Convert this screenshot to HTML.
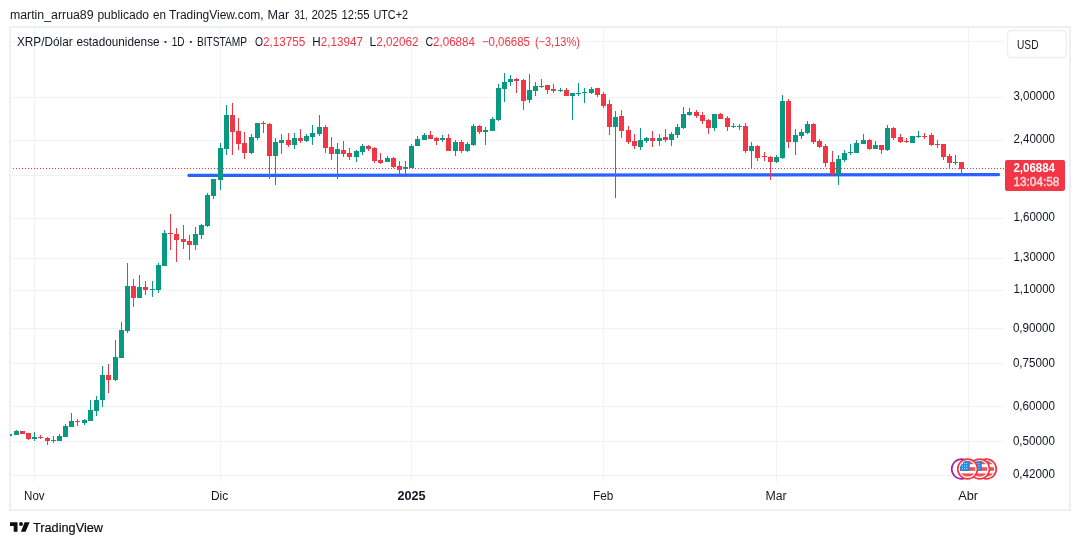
<!DOCTYPE html>
<html><head><meta charset="utf-8"><title>XRP/Dólar estadounidense</title>
<style>
html,body{margin:0;padding:0;background:#fff;}
body{width:1080px;height:545px;overflow:hidden;font-family:"Liberation Sans",sans-serif;}
svg{display:block;}
text{font-family:"Liberation Sans",sans-serif;}
</style></head><body>
<svg width="1080" height="545" viewBox="0 0 1080 545" style="will-change:transform">
<rect x="0" y="0" width="1080" height="545" fill="#ffffff"/>
<text x="9.9" y="19.3" font-size="12" fill="#131722" textLength="83.7" lengthAdjust="spacingAndGlyphs">martin_arrua89</text>
<text x="97.4" y="19.3" font-size="12" fill="#131722" textLength="51.7" lengthAdjust="spacingAndGlyphs">publicado</text>
<text x="152.9" y="19.3" font-size="12" fill="#131722" textLength="13.0" lengthAdjust="spacingAndGlyphs">en</text>
<text x="169.1" y="19.3" font-size="12" fill="#131722" textLength="94.5" lengthAdjust="spacingAndGlyphs">TradingView.com,</text>
<text x="267.4" y="19.3" font-size="12" fill="#131722" textLength="21.7" lengthAdjust="spacingAndGlyphs">Mar</text>
<text x="294.4" y="19.3" font-size="12" fill="#131722" textLength="13.2" lengthAdjust="spacingAndGlyphs">31,</text>
<text x="311.4" y="19.3" font-size="12" fill="#131722" textLength="25.7" lengthAdjust="spacingAndGlyphs">2025</text>
<text x="341.4" y="19.3" font-size="12" fill="#131722" textLength="28.2" lengthAdjust="spacingAndGlyphs">12:55</text>
<text x="373.4" y="19.3" font-size="12" fill="#131722" textLength="34.7" lengthAdjust="spacingAndGlyphs">UTC+2</text>
<g shape-rendering="crispEdges" fill="#f1f2f4">
<rect x="11" y="41" width="993" height="1"/>
<rect x="11" y="97" width="993" height="1"/>
<rect x="11" y="140" width="993" height="1"/>
<rect x="11" y="175" width="993" height="1"/>
<rect x="11" y="218" width="993" height="1"/>
<rect x="11" y="258" width="993" height="1"/>
<rect x="11" y="290" width="993" height="1"/>
<rect x="11" y="328" width="993" height="1"/>
<rect x="11" y="363" width="993" height="1"/>
<rect x="11" y="406" width="993" height="1"/>
<rect x="11" y="441" width="993" height="1"/>
<rect x="11" y="475" width="993" height="1"/>
<rect x="34" y="28" width="1" height="454"/>
<rect x="220" y="28" width="1" height="454"/>
<rect x="411" y="28" width="1" height="454"/>
<rect x="603" y="28" width="1" height="454"/>
<rect x="776" y="28" width="1" height="454"/>
<rect x="968" y="28" width="1" height="454"/>
</g>
<rect x="10" y="27" width="1060" height="483" fill="none" stroke="#eff0f2" stroke-width="2"/>
<line x1="189" y1="175.4" x2="998.5" y2="174.6" stroke="#2962ff" stroke-width="3.4" stroke-linecap="round"/>
<defs><clipPath id="cp"><rect x="10" y="28" width="994" height="454"/></clipPath></defs>
<g shape-rendering="crispEdges" clip-path="url(#cp)">
<rect x="9" y="434" width="1" height="2" fill="#089981"/><rect x="7" y="434" width="5" height="2" fill="#089981"/>
<rect x="16" y="430" width="1" height="5" fill="#089981"/><rect x="14" y="431" width="5" height="4" fill="#089981"/>
<rect x="22" y="431" width="1" height="3" fill="#f23645"/><rect x="20" y="431" width="5" height="3" fill="#f23645"/>
<rect x="28" y="433" width="1" height="7" fill="#f23645"/><rect x="26" y="433" width="5" height="6" fill="#f23645"/>
<rect x="34" y="432" width="1" height="9" fill="#089981"/><rect x="32" y="437" width="5" height="2" fill="#089981"/>
<rect x="40" y="435" width="1" height="4" fill="#f23645"/><rect x="38" y="437" width="5" height="1" fill="#f23645"/>
<rect x="47" y="437" width="1" height="8" fill="#f23645"/><rect x="45" y="438" width="5" height="3" fill="#f23645"/>
<rect x="53" y="436" width="1" height="7" fill="#089981"/><rect x="51" y="440" width="5" height="1" fill="#089981"/>
<rect x="59" y="434" width="1" height="7" fill="#089981"/><rect x="57" y="436" width="5" height="5" fill="#089981"/>
<rect x="65" y="424" width="1" height="13" fill="#089981"/><rect x="63" y="426" width="5" height="11" fill="#089981"/>
<rect x="71" y="413" width="1" height="14" fill="#089981"/><rect x="69" y="421" width="5" height="6" fill="#089981"/>
<rect x="77" y="419" width="1" height="7" fill="#f23645"/><rect x="75" y="421" width="5" height="1" fill="#f23645"/>
<rect x="84" y="419" width="1" height="6" fill="#089981"/><rect x="82" y="420" width="5" height="3" fill="#089981"/>
<rect x="90" y="400" width="1" height="21" fill="#089981"/><rect x="88" y="410" width="5" height="11" fill="#089981"/>
<rect x="96" y="396" width="1" height="20" fill="#089981"/><rect x="94" y="400" width="5" height="11" fill="#089981"/>
<rect x="102" y="366" width="1" height="41" fill="#089981"/><rect x="100" y="375" width="5" height="25" fill="#089981"/>
<rect x="108" y="364" width="1" height="29" fill="#f23645"/><rect x="106" y="375" width="5" height="5" fill="#f23645"/>
<rect x="115" y="340" width="1" height="41" fill="#089981"/><rect x="113" y="357" width="5" height="23" fill="#089981"/>
<rect x="121" y="322" width="1" height="36" fill="#089981"/><rect x="119" y="330" width="5" height="28" fill="#089981"/>
<rect x="127" y="263" width="1" height="70" fill="#089981"/><rect x="125" y="286" width="5" height="45" fill="#089981"/>
<rect x="133" y="279" width="1" height="28" fill="#f23645"/><rect x="131" y="286" width="5" height="12" fill="#f23645"/>
<rect x="139" y="275" width="1" height="23" fill="#089981"/><rect x="137" y="287" width="5" height="11" fill="#089981"/>
<rect x="145" y="281" width="1" height="14" fill="#f23645"/><rect x="143" y="287" width="5" height="3" fill="#f23645"/>
<rect x="152" y="281" width="1" height="16" fill="#089981"/><rect x="150" y="289" width="5" height="1" fill="#089981"/>
<rect x="158" y="263" width="1" height="30" fill="#089981"/><rect x="156" y="265" width="5" height="25" fill="#089981"/>
<rect x="164" y="230" width="1" height="36" fill="#089981"/><rect x="162" y="233" width="5" height="33" fill="#089981"/>
<rect x="170" y="214" width="1" height="36" fill="#f23645"/><rect x="168" y="233" width="5" height="1" fill="#f23645"/>
<rect x="176" y="228" width="1" height="34" fill="#f23645"/><rect x="174" y="234" width="5" height="6" fill="#f23645"/>
<rect x="183" y="225" width="1" height="24" fill="#f23645"/><rect x="181" y="239" width="5" height="3" fill="#f23645"/>
<rect x="189" y="235" width="1" height="25" fill="#f23645"/><rect x="187" y="241" width="5" height="4" fill="#f23645"/>
<rect x="195" y="227" width="1" height="23" fill="#089981"/><rect x="193" y="234" width="5" height="11" fill="#089981"/>
<rect x="201" y="224" width="1" height="15" fill="#089981"/><rect x="199" y="225" width="5" height="10" fill="#089981"/>
<rect x="207" y="193" width="1" height="34" fill="#089981"/><rect x="205" y="195" width="5" height="31" fill="#089981"/>
<rect x="213" y="179" width="1" height="20" fill="#089981"/><rect x="211" y="179" width="5" height="17" fill="#089981"/>
<rect x="220" y="143" width="1" height="47" fill="#089981"/><rect x="218" y="148" width="5" height="32" fill="#089981"/>
<rect x="226" y="105" width="1" height="50" fill="#089981"/><rect x="224" y="115" width="5" height="34" fill="#089981"/>
<rect x="232" y="103" width="1" height="52" fill="#f23645"/><rect x="230" y="115" width="5" height="17" fill="#f23645"/>
<rect x="238" y="118" width="1" height="32" fill="#f23645"/><rect x="236" y="131" width="5" height="13" fill="#f23645"/>
<rect x="244" y="132" width="1" height="27" fill="#f23645"/><rect x="242" y="143" width="5" height="10" fill="#f23645"/>
<rect x="251" y="134" width="1" height="20" fill="#089981"/><rect x="249" y="137" width="5" height="16" fill="#089981"/>
<rect x="257" y="123" width="1" height="17" fill="#089981"/><rect x="255" y="123" width="5" height="15" fill="#089981"/>
<rect x="263" y="121" width="1" height="12" fill="#f23645"/><rect x="261" y="123" width="5" height="1" fill="#f23645"/>
<rect x="269" y="123" width="1" height="56" fill="#f23645"/><rect x="267" y="124" width="5" height="32" fill="#f23645"/>
<rect x="275" y="138" width="1" height="47" fill="#089981"/><rect x="273" y="142" width="5" height="14" fill="#089981"/>
<rect x="281" y="134" width="1" height="20" fill="#089981"/><rect x="279" y="140" width="5" height="3" fill="#089981"/>
<rect x="288" y="133" width="1" height="14" fill="#f23645"/><rect x="286" y="140" width="5" height="5" fill="#f23645"/>
<rect x="294" y="133" width="1" height="16" fill="#089981"/><rect x="292" y="138" width="5" height="7" fill="#089981"/>
<rect x="300" y="129" width="1" height="14" fill="#f23645"/><rect x="298" y="138" width="5" height="3" fill="#f23645"/>
<rect x="306" y="134" width="1" height="8" fill="#089981"/><rect x="304" y="136" width="5" height="5" fill="#089981"/>
<rect x="312" y="125" width="1" height="20" fill="#089981"/><rect x="310" y="133" width="5" height="4" fill="#089981"/>
<rect x="319" y="115" width="1" height="21" fill="#089981"/><rect x="317" y="127" width="5" height="7" fill="#089981"/>
<rect x="325" y="125" width="1" height="28" fill="#f23645"/><rect x="323" y="127" width="5" height="21" fill="#f23645"/>
<rect x="331" y="137" width="1" height="23" fill="#f23645"/><rect x="329" y="147" width="5" height="7" fill="#f23645"/>
<rect x="337" y="143" width="1" height="36" fill="#089981"/><rect x="335" y="149" width="5" height="5" fill="#089981"/>
<rect x="343" y="141" width="1" height="16" fill="#f23645"/><rect x="341" y="150" width="5" height="4" fill="#f23645"/>
<rect x="349" y="148" width="1" height="12" fill="#f23645"/><rect x="347" y="153" width="5" height="4" fill="#f23645"/>
<rect x="356" y="150" width="1" height="12" fill="#089981"/><rect x="354" y="151" width="5" height="6" fill="#089981"/>
<rect x="362" y="144" width="1" height="11" fill="#089981"/><rect x="360" y="146" width="5" height="6" fill="#089981"/>
<rect x="368" y="145" width="1" height="6" fill="#f23645"/><rect x="366" y="146" width="5" height="3" fill="#f23645"/>
<rect x="374" y="147" width="1" height="16" fill="#f23645"/><rect x="372" y="148" width="5" height="13" fill="#f23645"/>
<rect x="380" y="153" width="1" height="11" fill="#f23645"/><rect x="378" y="160" width="5" height="3" fill="#f23645"/>
<rect x="387" y="156" width="1" height="6" fill="#089981"/><rect x="385" y="158" width="5" height="4" fill="#089981"/>
<rect x="393" y="157" width="1" height="11" fill="#f23645"/><rect x="391" y="158" width="5" height="9" fill="#f23645"/>
<rect x="399" y="161" width="1" height="14" fill="#f23645"/><rect x="397" y="166" width="5" height="4" fill="#f23645"/>
<rect x="405" y="161" width="1" height="13" fill="#089981"/><rect x="403" y="167" width="5" height="2" fill="#089981"/>
<rect x="411" y="144" width="1" height="24" fill="#089981"/><rect x="409" y="146" width="5" height="22" fill="#089981"/>
<rect x="417" y="136" width="1" height="10" fill="#089981"/><rect x="415" y="139" width="5" height="7" fill="#089981"/>
<rect x="424" y="133" width="1" height="7" fill="#089981"/><rect x="422" y="135" width="5" height="5" fill="#089981"/>
<rect x="430" y="131" width="1" height="8" fill="#f23645"/><rect x="428" y="135" width="5" height="4" fill="#f23645"/>
<rect x="436" y="137" width="1" height="8" fill="#f23645"/><rect x="434" y="138" width="5" height="3" fill="#f23645"/>
<rect x="442" y="135" width="1" height="7" fill="#089981"/><rect x="440" y="138" width="5" height="2" fill="#089981"/>
<rect x="448" y="134" width="1" height="17" fill="#f23645"/><rect x="446" y="138" width="5" height="13" fill="#f23645"/>
<rect x="455" y="140" width="1" height="16" fill="#089981"/><rect x="453" y="142" width="5" height="9" fill="#089981"/>
<rect x="461" y="140" width="1" height="13" fill="#f23645"/><rect x="459" y="142" width="5" height="9" fill="#f23645"/>
<rect x="467" y="142" width="1" height="10" fill="#089981"/><rect x="465" y="144" width="5" height="7" fill="#089981"/>
<rect x="473" y="124" width="1" height="22" fill="#089981"/><rect x="471" y="126" width="5" height="19" fill="#089981"/>
<rect x="479" y="125" width="1" height="9" fill="#f23645"/><rect x="477" y="126" width="5" height="6" fill="#f23645"/>
<rect x="485" y="127" width="1" height="18" fill="#089981"/><rect x="483" y="130" width="5" height="2" fill="#089981"/>
<rect x="492" y="117" width="1" height="14" fill="#089981"/><rect x="490" y="119" width="5" height="12" fill="#089981"/>
<rect x="498" y="84" width="1" height="37" fill="#089981"/><rect x="496" y="88" width="5" height="32" fill="#089981"/>
<rect x="504" y="73" width="1" height="29" fill="#089981"/><rect x="502" y="82" width="5" height="7" fill="#089981"/>
<rect x="510" y="75" width="1" height="11" fill="#089981"/><rect x="508" y="79" width="5" height="3" fill="#089981"/>
<rect x="516" y="78" width="1" height="15" fill="#f23645"/><rect x="514" y="79" width="5" height="2" fill="#f23645"/>
<rect x="523" y="79" width="1" height="31" fill="#f23645"/><rect x="521" y="80" width="5" height="21" fill="#f23645"/>
<rect x="529" y="74" width="1" height="29" fill="#089981"/><rect x="527" y="90" width="5" height="10" fill="#089981"/>
<rect x="535" y="82" width="1" height="14" fill="#089981"/><rect x="533" y="86" width="5" height="5" fill="#089981"/>
<rect x="541" y="79" width="1" height="9" fill="#089981"/><rect x="539" y="86" width="5" height="1" fill="#089981"/>
<rect x="547" y="85" width="1" height="9" fill="#f23645"/><rect x="545" y="85" width="5" height="5" fill="#f23645"/>
<rect x="553" y="84" width="1" height="9" fill="#f23645"/><rect x="551" y="89" width="5" height="2" fill="#f23645"/>
<rect x="560" y="88" width="1" height="4" fill="#089981"/><rect x="558" y="90" width="5" height="1" fill="#089981"/>
<rect x="566" y="88" width="1" height="8" fill="#f23645"/><rect x="564" y="90" width="5" height="6" fill="#f23645"/>
<rect x="572" y="93" width="1" height="27" fill="#089981"/><rect x="570" y="93" width="5" height="3" fill="#089981"/>
<rect x="578" y="83" width="1" height="13" fill="#089981"/><rect x="576" y="93" width="5" height="1" fill="#089981"/>
<rect x="584" y="88" width="1" height="15" fill="#089981"/><rect x="582" y="92" width="5" height="1" fill="#089981"/>
<rect x="591" y="87" width="1" height="7" fill="#089981"/><rect x="589" y="89" width="5" height="4" fill="#089981"/>
<rect x="597" y="88" width="1" height="9" fill="#f23645"/><rect x="595" y="88" width="5" height="7" fill="#f23645"/>
<rect x="603" y="92" width="1" height="16" fill="#f23645"/><rect x="601" y="94" width="5" height="12" fill="#f23645"/>
<rect x="609" y="100" width="1" height="35" fill="#f23645"/><rect x="607" y="104" width="5" height="23" fill="#f23645"/>
<rect x="615" y="111" width="1" height="87" fill="#089981"/><rect x="613" y="117" width="5" height="10" fill="#089981"/>
<rect x="621" y="110" width="1" height="28" fill="#f23645"/><rect x="619" y="116" width="5" height="15" fill="#f23645"/>
<rect x="628" y="126" width="1" height="18" fill="#f23645"/><rect x="626" y="130" width="5" height="12" fill="#f23645"/>
<rect x="634" y="134" width="1" height="15" fill="#f23645"/><rect x="632" y="141" width="5" height="5" fill="#f23645"/>
<rect x="640" y="128" width="1" height="22" fill="#089981"/><rect x="638" y="140" width="5" height="7" fill="#089981"/>
<rect x="646" y="137" width="1" height="6" fill="#089981"/><rect x="644" y="138" width="5" height="3" fill="#089981"/>
<rect x="652" y="131" width="1" height="16" fill="#f23645"/><rect x="650" y="138" width="5" height="3" fill="#f23645"/>
<rect x="659" y="134" width="1" height="12" fill="#089981"/><rect x="657" y="138" width="5" height="3" fill="#089981"/>
<rect x="665" y="129" width="1" height="13" fill="#f23645"/><rect x="663" y="137" width="5" height="3" fill="#f23645"/>
<rect x="671" y="132" width="1" height="14" fill="#089981"/><rect x="669" y="134" width="5" height="6" fill="#089981"/>
<rect x="677" y="124" width="1" height="14" fill="#089981"/><rect x="675" y="127" width="5" height="8" fill="#089981"/>
<rect x="683" y="107" width="1" height="22" fill="#089981"/><rect x="681" y="114" width="5" height="14" fill="#089981"/>
<rect x="689" y="108" width="1" height="8" fill="#089981"/><rect x="687" y="112" width="5" height="3" fill="#089981"/>
<rect x="696" y="110" width="1" height="8" fill="#f23645"/><rect x="694" y="112" width="5" height="4" fill="#f23645"/>
<rect x="702" y="112" width="1" height="12" fill="#f23645"/><rect x="700" y="115" width="5" height="6" fill="#f23645"/>
<rect x="708" y="119" width="1" height="15" fill="#f23645"/><rect x="706" y="120" width="5" height="8" fill="#f23645"/>
<rect x="714" y="114" width="1" height="17" fill="#089981"/><rect x="712" y="114" width="5" height="14" fill="#089981"/>
<rect x="720" y="113" width="1" height="6" fill="#f23645"/><rect x="718" y="114" width="5" height="5" fill="#f23645"/>
<rect x="727" y="116" width="1" height="15" fill="#f23645"/><rect x="725" y="118" width="5" height="9" fill="#f23645"/>
<rect x="733" y="123" width="1" height="5" fill="#089981"/><rect x="731" y="126" width="5" height="1" fill="#089981"/>
<rect x="739" y="124" width="1" height="6" fill="#089981"/><rect x="737" y="126" width="5" height="1" fill="#089981"/>
<rect x="745" y="123" width="1" height="30" fill="#f23645"/><rect x="743" y="126" width="5" height="25" fill="#f23645"/>
<rect x="751" y="142" width="1" height="26" fill="#089981"/><rect x="749" y="146" width="5" height="5" fill="#089981"/>
<rect x="757" y="145" width="1" height="16" fill="#f23645"/><rect x="755" y="146" width="5" height="12" fill="#f23645"/>
<rect x="764" y="152" width="1" height="9" fill="#f23645"/><rect x="762" y="156" width="5" height="1" fill="#f23645"/>
<rect x="770" y="156" width="1" height="24" fill="#f23645"/><rect x="768" y="157" width="5" height="5" fill="#f23645"/>
<rect x="776" y="155" width="1" height="8" fill="#089981"/><rect x="774" y="157" width="5" height="5" fill="#089981"/>
<rect x="782" y="95" width="1" height="64" fill="#089981"/><rect x="780" y="101" width="5" height="57" fill="#089981"/>
<rect x="788" y="99" width="1" height="49" fill="#f23645"/><rect x="786" y="101" width="5" height="41" fill="#f23645"/>
<rect x="795" y="129" width="1" height="26" fill="#089981"/><rect x="793" y="135" width="5" height="7" fill="#089981"/>
<rect x="801" y="129" width="1" height="10" fill="#089981"/><rect x="799" y="132" width="5" height="4" fill="#089981"/>
<rect x="807" y="121" width="1" height="13" fill="#089981"/><rect x="805" y="124" width="5" height="9" fill="#089981"/>
<rect x="813" y="123" width="1" height="21" fill="#f23645"/><rect x="811" y="124" width="5" height="18" fill="#f23645"/>
<rect x="819" y="139" width="1" height="9" fill="#f23645"/><rect x="817" y="141" width="5" height="6" fill="#f23645"/>
<rect x="825" y="144" width="1" height="23" fill="#f23645"/><rect x="823" y="146" width="5" height="17" fill="#f23645"/>
<rect x="832" y="151" width="1" height="24" fill="#f23645"/><rect x="830" y="162" width="5" height="12" fill="#f23645"/>
<rect x="838" y="155" width="1" height="30" fill="#089981"/><rect x="836" y="159" width="5" height="15" fill="#089981"/>
<rect x="844" y="150" width="1" height="12" fill="#089981"/><rect x="842" y="153" width="5" height="7" fill="#089981"/>
<rect x="850" y="144" width="1" height="11" fill="#089981"/><rect x="848" y="152" width="5" height="1" fill="#089981"/>
<rect x="856" y="140" width="1" height="13" fill="#089981"/><rect x="854" y="143" width="5" height="10" fill="#089981"/>
<rect x="863" y="134" width="1" height="10" fill="#089981"/><rect x="861" y="140" width="5" height="4" fill="#089981"/>
<rect x="869" y="139" width="1" height="11" fill="#f23645"/><rect x="867" y="140" width="5" height="9" fill="#f23645"/>
<rect x="875" y="141" width="1" height="8" fill="#089981"/><rect x="873" y="145" width="5" height="4" fill="#089981"/>
<rect x="881" y="145" width="1" height="9" fill="#f23645"/><rect x="879" y="145" width="5" height="5" fill="#f23645"/>
<rect x="887" y="125" width="1" height="26" fill="#089981"/><rect x="885" y="128" width="5" height="22" fill="#089981"/>
<rect x="893" y="127" width="1" height="13" fill="#f23645"/><rect x="891" y="128" width="5" height="10" fill="#f23645"/>
<rect x="900" y="134" width="1" height="9" fill="#f23645"/><rect x="898" y="137" width="5" height="5" fill="#f23645"/>
<rect x="906" y="138" width="1" height="5" fill="#f23645"/><rect x="904" y="141" width="5" height="1" fill="#f23645"/>
<rect x="912" y="136" width="1" height="7" fill="#089981"/><rect x="910" y="136" width="5" height="7" fill="#089981"/>
<rect x="918" y="131" width="1" height="7" fill="#089981"/><rect x="916" y="136" width="5" height="1" fill="#089981"/>
<rect x="924" y="133" width="1" height="6" fill="#f23645"/><rect x="922" y="136" width="5" height="1" fill="#f23645"/>
<rect x="931" y="133" width="1" height="13" fill="#f23645"/><rect x="929" y="135" width="5" height="10" fill="#f23645"/>
<rect x="937" y="140" width="1" height="8" fill="#f23645"/><rect x="935" y="144" width="5" height="1" fill="#f23645"/>
<rect x="943" y="144" width="1" height="16" fill="#f23645"/><rect x="941" y="144" width="5" height="13" fill="#f23645"/>
<rect x="949" y="154" width="1" height="15" fill="#f23645"/><rect x="947" y="156" width="5" height="7" fill="#f23645"/>
<rect x="955" y="155" width="1" height="10" fill="#089981"/><rect x="953" y="162" width="5" height="1" fill="#089981"/>
<rect x="961" y="162" width="1" height="11" fill="#f23645"/><rect x="959" y="162" width="5" height="7" fill="#f23645"/>
</g>
<line x1="13" y1="168.5" x2="1004" y2="168.5" stroke="#f23645" stroke-width="1" stroke-dasharray="1 2" shape-rendering="crispEdges"/>
<text x="17.0" y="45.9" font-size="12.2" fill="#131722" textLength="55.6" lengthAdjust="spacingAndGlyphs">XRP/Dólar</text>
<text x="76.4" y="45.9" font-size="12.2" fill="#131722" textLength="83.2" lengthAdjust="spacingAndGlyphs">estadounidense</text>
<rect x="164.6" y="41.1" width="1.8" height="1.8" fill="#131722"/>
<text x="171.8" y="45.9" font-size="12.2" fill="#131722" textLength="12.8" lengthAdjust="spacingAndGlyphs">1D</text>
<rect x="189.9" y="41.1" width="1.8" height="1.8" fill="#131722"/>
<text x="196.9" y="45.9" font-size="12.2" fill="#131722" textLength="50.2" lengthAdjust="spacingAndGlyphs">BITSTAMP</text>
<text x="255.1" y="45.9" font-size="12.2" fill="#131722" textLength="8.0" lengthAdjust="spacingAndGlyphs">O</text>
<text x="263.0" y="45.9" font-size="12.2" fill="#f23645" textLength="42.4" lengthAdjust="spacingAndGlyphs">2,13755</text>
<text x="312.2" y="45.9" font-size="12.2" fill="#131722" textLength="8.4" lengthAdjust="spacingAndGlyphs">H</text>
<text x="320.7" y="45.9" font-size="12.2" fill="#f23645" textLength="42.2" lengthAdjust="spacingAndGlyphs">2,13947</text>
<text x="369.6" y="45.9" font-size="12.2" fill="#131722" textLength="6.7" lengthAdjust="spacingAndGlyphs">L</text>
<text x="376.2" y="45.9" font-size="12.2" fill="#f23645" textLength="42.2" lengthAdjust="spacingAndGlyphs">2,02062</text>
<text x="425.6" y="45.9" font-size="12.2" fill="#131722" textLength="7.7" lengthAdjust="spacingAndGlyphs">C</text>
<text x="433.0" y="45.9" font-size="12.2" fill="#f23645" textLength="42.0" lengthAdjust="spacingAndGlyphs">2,06884</text>
<text x="481.9" y="45.9" font-size="12.2" fill="#f23645" textLength="48.0" lengthAdjust="spacingAndGlyphs">−0,06685</text>
<text x="534.9" y="45.9" font-size="12.2" fill="#f23645" textLength="45.0" lengthAdjust="spacingAndGlyphs">(−3,13%)</text>
<rect x="1007.5" y="30.5" width="59" height="27" rx="4" ry="4" fill="#ffffff" stroke="#ecedf0" stroke-width="1.3"/>
<text x="1017" y="49.2" font-size="12" fill="#131722" textLength="21.5" lengthAdjust="spacingAndGlyphs">USD</text>
<text x="1013.4" y="99.9" font-size="12" fill="#131722" textLength="41.6" lengthAdjust="spacingAndGlyphs">3,00000</text>
<text x="1013.4" y="142.8" font-size="12" fill="#131722" textLength="41.6" lengthAdjust="spacingAndGlyphs">2,40000</text>
<text x="1013.4" y="220.8" font-size="12" fill="#131722" textLength="41.6" lengthAdjust="spacingAndGlyphs">1,60000</text>
<text x="1013.4" y="260.8" font-size="12" fill="#131722" textLength="41.6" lengthAdjust="spacingAndGlyphs">1,30000</text>
<text x="1013.4" y="292.9" font-size="12" fill="#131722" textLength="41.6" lengthAdjust="spacingAndGlyphs">1,10000</text>
<text x="1012.9" y="331.5" font-size="12" fill="#131722" textLength="42.1" lengthAdjust="spacingAndGlyphs">0,90000</text>
<text x="1012.9" y="366.6" font-size="12" fill="#131722" textLength="42.1" lengthAdjust="spacingAndGlyphs">0,75000</text>
<text x="1012.9" y="409.6" font-size="12" fill="#131722" textLength="42.1" lengthAdjust="spacingAndGlyphs">0,60000</text>
<text x="1012.9" y="444.6" font-size="12" fill="#131722" textLength="42.1" lengthAdjust="spacingAndGlyphs">0,50000</text>
<text x="1012.9" y="478.2" font-size="12" fill="#131722" textLength="42.1" lengthAdjust="spacingAndGlyphs">0,42000</text>
<rect x="1005" y="160" width="60" height="31" rx="2" ry="2" fill="#f23645"/>
<text x="1013.4" y="171.8" font-size="12" fill="#ffffff" textLength="41.6" lengthAdjust="spacingAndGlyphs" font-weight="bold">2,06884</text>
<g opacity="0.8"><text x="1013.4" y="185.8" font-size="12" fill="#ffffff" textLength="46" lengthAdjust="spacingAndGlyphs" stroke="#ffffff" stroke-width="0.45">13:04:58</text>
</g>
<text x="24.1" y="499.8" font-size="12" fill="#131722" textLength="20.5" lengthAdjust="spacingAndGlyphs">Nov</text>
<text x="210.9" y="499.8" font-size="12" fill="#131722" textLength="17.2" lengthAdjust="spacingAndGlyphs">Dic</text>
<text x="397.4" y="499.8" font-size="12" fill="#131722" textLength="28.2" lengthAdjust="spacingAndGlyphs" font-weight="bold">2025</text>
<text x="593.0" y="499.8" font-size="12" fill="#131722" textLength="20.3" lengthAdjust="spacingAndGlyphs">Feb</text>
<text x="765.4" y="499.8" font-size="12" fill="#131722" textLength="21.2" lengthAdjust="spacingAndGlyphs">Mar</text>
<text x="958.2" y="499.8" font-size="12" fill="#131722" textLength="19.9" lengthAdjust="spacingAndGlyphs">Abr</text>
<circle cx="961.6" cy="469" r="9.9" fill="#ffffff" stroke="#9c27b0" stroke-width="1.7"/>
<g><circle cx="986.4" cy="469" r="9.9" fill="#ffffff" stroke="#f23645" stroke-width="1.7"/><clipPath id="f3"><circle cx="986.4" cy="469" r="7.9"/></clipPath><g clip-path="url(#f3)"><rect x="978.4" y="461" width="16" height="16" fill="#ffffff"/><rect x="978.4" y="461" width="16" height="3.2" fill="#ef5350"/><rect x="978.4" y="467.2" width="16" height="3.6" fill="#ef5350"/><rect x="978.4" y="473.4" width="16" height="3.2" fill="#ef5350"/><rect x="978.4" y="461" width="10.2" height="9.8" fill="#1e88e5"/><rect x="980.6999999999999" y="463.20000000000005" width="1.1" height="0.9" fill="#ffffff" fill-opacity="0.85"/><rect x="982.9" y="463.20000000000005" width="1.1" height="0.9" fill="#ffffff" fill-opacity="0.85"/><rect x="985.1" y="463.20000000000005" width="1.1" height="0.9" fill="#ffffff" fill-opacity="0.85"/><rect x="980.6999999999999" y="465.6" width="1.1" height="0.9" fill="#ffffff" fill-opacity="0.85"/><rect x="982.9" y="465.6" width="1.1" height="0.9" fill="#ffffff" fill-opacity="0.85"/><rect x="985.1" y="465.6" width="1.1" height="0.9" fill="#ffffff" fill-opacity="0.85"/><rect x="980.6999999999999" y="468.20000000000005" width="1.1" height="0.9" fill="#ffffff" fill-opacity="0.85"/><rect x="982.9" y="468.20000000000005" width="1.1" height="0.9" fill="#ffffff" fill-opacity="0.85"/><rect x="985.1" y="468.20000000000005" width="1.1" height="0.9" fill="#ffffff" fill-opacity="0.85"/></g></g>
<g><circle cx="979.6" cy="469" r="9.9" fill="#ffffff" stroke="#f23645" stroke-width="1.7"/><clipPath id="f2"><circle cx="979.6" cy="469" r="7.9"/></clipPath><g clip-path="url(#f2)"><rect x="971.6" y="461" width="16" height="16" fill="#ffffff"/><rect x="971.6" y="461" width="16" height="3.2" fill="#ef5350"/><rect x="971.6" y="467.2" width="16" height="3.6" fill="#ef5350"/><rect x="971.6" y="473.4" width="16" height="3.2" fill="#ef5350"/><rect x="971.6" y="461" width="10.2" height="9.8" fill="#1e88e5"/><rect x="973.9" y="463.20000000000005" width="1.1" height="0.9" fill="#ffffff" fill-opacity="0.85"/><rect x="976.1" y="463.20000000000005" width="1.1" height="0.9" fill="#ffffff" fill-opacity="0.85"/><rect x="978.3000000000001" y="463.20000000000005" width="1.1" height="0.9" fill="#ffffff" fill-opacity="0.85"/><rect x="973.9" y="465.6" width="1.1" height="0.9" fill="#ffffff" fill-opacity="0.85"/><rect x="976.1" y="465.6" width="1.1" height="0.9" fill="#ffffff" fill-opacity="0.85"/><rect x="978.3000000000001" y="465.6" width="1.1" height="0.9" fill="#ffffff" fill-opacity="0.85"/><rect x="973.9" y="468.20000000000005" width="1.1" height="0.9" fill="#ffffff" fill-opacity="0.85"/><rect x="976.1" y="468.20000000000005" width="1.1" height="0.9" fill="#ffffff" fill-opacity="0.85"/><rect x="978.3000000000001" y="468.20000000000005" width="1.1" height="0.9" fill="#ffffff" fill-opacity="0.85"/></g></g>
<g><circle cx="967.6" cy="469" r="9.9" fill="#ffffff" stroke="#f23645" stroke-width="1.7"/><clipPath id="f1"><circle cx="967.6" cy="469" r="7.9"/></clipPath><g clip-path="url(#f1)"><rect x="959.6" y="461" width="16" height="16" fill="#ffffff"/><rect x="959.6" y="461" width="16" height="3.2" fill="#ef5350"/><rect x="959.6" y="467.2" width="16" height="3.6" fill="#ef5350"/><rect x="959.6" y="473.4" width="16" height="3.2" fill="#ef5350"/><rect x="959.6" y="461" width="10.2" height="9.8" fill="#1e88e5"/><rect x="961.9" y="463.20000000000005" width="1.1" height="0.9" fill="#ffffff" fill-opacity="0.85"/><rect x="964.1" y="463.20000000000005" width="1.1" height="0.9" fill="#ffffff" fill-opacity="0.85"/><rect x="966.3000000000001" y="463.20000000000005" width="1.1" height="0.9" fill="#ffffff" fill-opacity="0.85"/><rect x="961.9" y="465.6" width="1.1" height="0.9" fill="#ffffff" fill-opacity="0.85"/><rect x="964.1" y="465.6" width="1.1" height="0.9" fill="#ffffff" fill-opacity="0.85"/><rect x="966.3000000000001" y="465.6" width="1.1" height="0.9" fill="#ffffff" fill-opacity="0.85"/><rect x="961.9" y="468.20000000000005" width="1.1" height="0.9" fill="#ffffff" fill-opacity="0.85"/><rect x="964.1" y="468.20000000000005" width="1.1" height="0.9" fill="#ffffff" fill-opacity="0.85"/><rect x="966.3000000000001" y="468.20000000000005" width="1.1" height="0.9" fill="#ffffff" fill-opacity="0.85"/></g></g>
<g fill="#0b0d13"><path d="M10 522.2 H17.5 V531.8 H13.7 V525.9 H10 Z"/><circle cx="21" cy="524" r="1.95"/><path d="M24.6 522.2 H29.6 L25.6 531.8 H20.9 Z"/></g>
<text x="33" y="531.8" font-size="13" fill="#0b0d13" textLength="70" lengthAdjust="spacingAndGlyphs" stroke="#0b0d13" stroke-width="0.2">TradingView</text>
</svg>
</body></html>
